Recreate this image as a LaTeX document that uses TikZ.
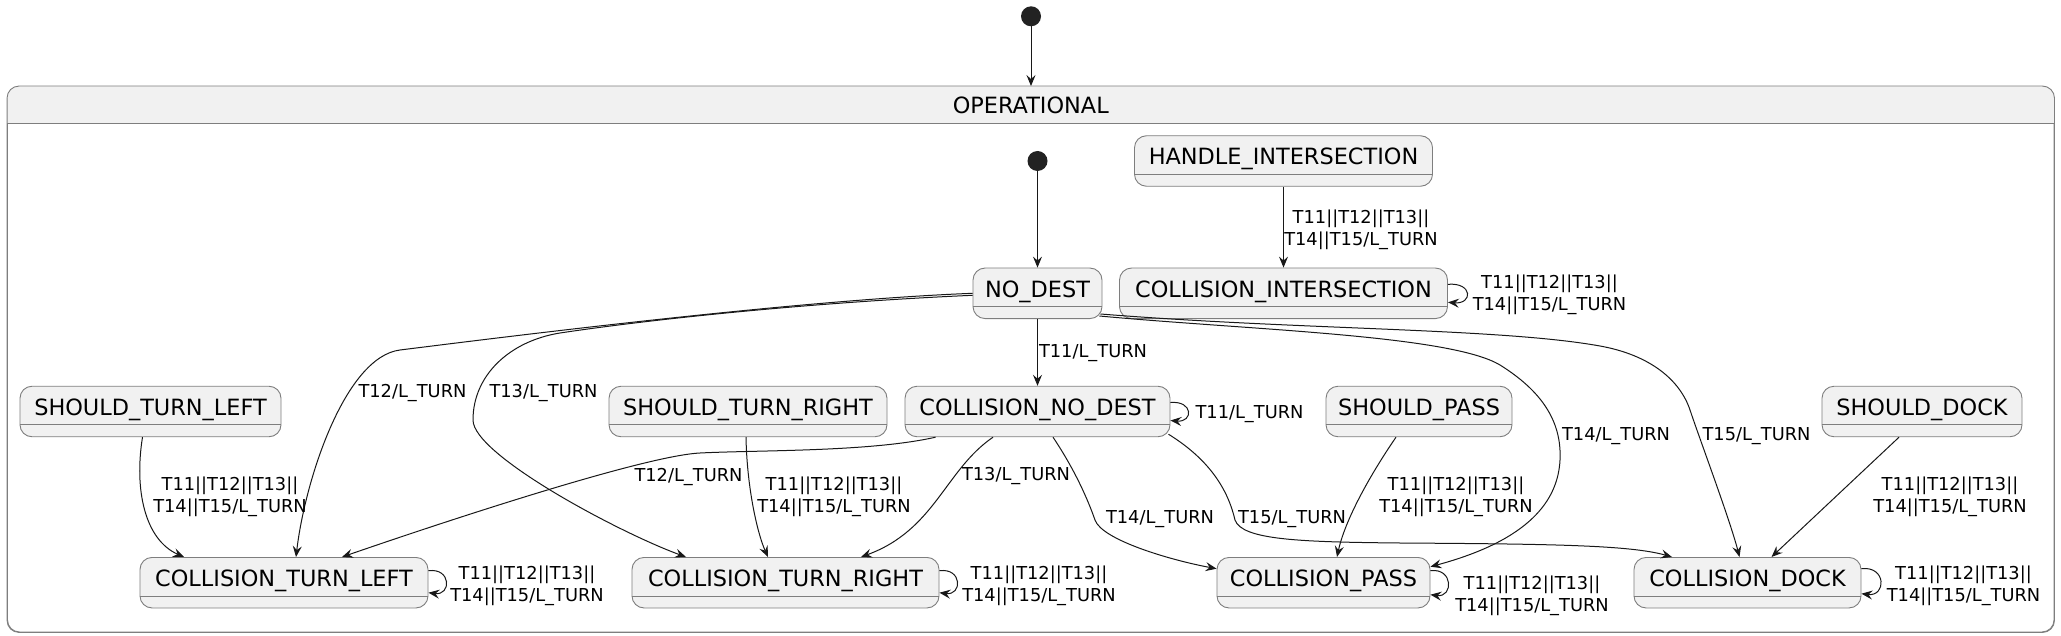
\documentclass[tikz,border=0pt]{standalone}
\usepackage{fontspec}
\setmainfont{DejaVu Sans}
\usetikzlibrary{arrows.meta,calc}
\definecolor{stfill}{HTML}{F1F1F1}
\definecolor{stline}{HTML}{181818}
\definecolor{bordc}{HTML}{7E7E7E}
\definecolor{dotc}{HTML}{222222}
\tikzset{
  statebox/.style={draw=bordc, line width=0.9pt, fill=stfill, rounded corners=12pt,
    minimum height=50.5pt, inner sep=0pt, text height=20pt, text depth=12.5pt,
    font=\fontsize{22.4}{26}\selectfont},
  sepline/.style={draw=bordc, line width=0.9pt},
  arr/.style={draw=stline, line width=1pt, -{Stealth[length=11pt,width=9pt,inset=4pt]}},
  lbl/.style={font=\fontsize{17.8}{22}\selectfont, align=center, inner sep=0pt},
  initdot/.style={circle, fill=dotc, minimum size=20pt, inner sep=0pt},
  titletext/.style={font=\fontsize{22.4}{26}\selectfont, inner sep=0pt},
}
\newcommand{\umlstate}[5]{%
  \node[statebox, minimum width=#4pt] (#1) at (#2,#3) {#5};
  \draw[sepline] ($(#1.north west)+(0,39)$) -- ($(#1.north east)+(0,39)$);
}
\begin{document}
\begin{tikzpicture}[x=1pt,y=-1pt]
\useasboundingbox (0,0) rectangle (2061,636);
% composite state
\node[draw=bordc, line width=0.9pt, rounded corners=12pt, minimum width=2046.5pt,
      minimum height=545.5pt, inner sep=0pt] (op) at (1030.75,359.25) {};
\fill[stfill, rounded corners=12pt] (op.north west) rectangle ($(op.north east)+(0,37.5)$);
\fill[stfill] ($(op.north west)+(0,20)$) rectangle ($(op.north east)+(0,37.5)$);
\draw[bordc, line width=0.9pt, rounded corners=12pt] (op.north west) rectangle (op.south east);
\draw[sepline] ($(op.north west)+(0,37.5)$) -- ($(op.north east)+(0,37.5)$);
\node[titletext, anchor=base] (optitle) at (1030.75,113.5) {OPERATIONAL};

% initial dots
\node[initdot] (init0) at (1031,16.3) {};
\node[initdot] (init1) at (1037.5,161) {};

% states
\umlstate{hi}{1283.5}{161}{298}{HANDLE\_INTERSECTION}
\umlstate{nd}{1037.5}{293.3}{129}{NO\_DEST}
\umlstate{ci}{1283.5}{293.3}{328}{COLLISION\_INTERSECTION}
\umlstate{stl}{150.5}{411.5}{261}{SHOULD\_TURN\_LEFT}
\umlstate{str}{748}{411.5}{278}{SHOULD\_TURN\_RIGHT}
\umlstate{cnd}{1037.5}{411.5}{265}{COLLISION\_NO\_DEST}
\umlstate{sp}{1419}{411.5}{186}{SHOULD\_PASS}
\umlstate{sd}{1922}{411.5}{200}{SHOULD\_DOCK}
\umlstate{ctl}{284}{582.7}{288}{COLLISION\_TURN\_LEFT}
\umlstate{ctr}{785.5}{582.7}{307}{COLLISION\_TURN\_RIGHT}
\umlstate{cp}{1323.5}{582.7}{213}{COLLISION\_PASS}
\umlstate{cd}{1747.5}{582.7}{227}{COLLISION\_DOCK}

% connectors
\draw[arr] (init0) -- (init0 |- op.north);
\draw[arr] (init1) -- (nd.north);
\draw[arr] (hi.south) -- (ci.north);
\draw[arr] (nd.south) -- (cnd.north);
% NO_DEST -> COLLISION_TURN_LEFT
\draw[arr] (nd.west) .. controls (800,300) and (520,335) .. (400,350)
  .. controls (345,357) and (305,480) .. ($(ctl.north)+(12,0)$);
% NO_DEST -> COLLISION_TURN_RIGHT
\draw[arr] ($(nd.west)+(0,2)$) .. controls (820,302) and (660,318) .. (560,333)
  .. controls (510,341) and (473,375) .. (473,420)
  .. controls (473,455) and (620,533) .. ($(ctr.north)+(-99.5,0)$);
% NO_DEST -> COLLISION_PASS
\draw[arr] ($(nd.south east)+(-3,-3)$) .. controls (1250,330) and (1450,335) .. (1500,365)
  .. controls (1540,390) and (1562,420) .. (1560,460)
  .. controls (1558,500) and (1530,540) .. ($(cp.east)+(0,-16)$);
% NO_DEST -> COLLISION_DOCK
\draw[arr] ($(nd.south east)+(-2,-5)$) .. controls (1300,330) and (1500,328) .. (1600,346)
  .. controls (1650,355) and (1680,380) .. (1690,410)
  .. controls (1700,440) and (1730,520) .. ($(cd.north)+(-8,0)$);
% COLLISION_NO_DEST -> ...
\draw[arr] ($(cnd.south west)+(31,0)$) .. controls (870,452) and (760,450) .. (700,453)
  .. controls (640,456) and (420,530) .. ($(ctl.north)+(58,0)$);
\draw[arr] ($(cnd.south)+(-44.5,0)$) .. controls (945,470) and (935,530) .. ($(ctr.north)+(75.5,0)$);
\draw[arr] ($(cnd.south)+(15.5,0)$) .. controls (1075,470) and (1088,500) .. (1095,520)
  .. controls (1102,540) and (1170,560) .. ($(cp.west)+(0,-14)$);
\draw[arr] ($(cnd.south east)+(-2,-3)$) .. controls (1210,460) and (1228,490) .. (1235,520)
  .. controls (1242,540) and (1300,542) .. (1400,543)
  .. controls (1550,544) and (1630,545) .. ($(cd.north)+(-75.5,0)$);
% SHOULD_* -> COLLISION_*
\draw[arr] ($(stl.south)+(-8,0)$) .. controls (134,490) and (145,540) .. ($(ctl.north)+(-100,0)$);
\draw[arr] ($(str.south)+(-2,0)$) .. controls (747,490) and (758,535) .. ($(ctr.north)+(-17.5,0)$);
\draw[arr] ($(sp.south)+(-23,0)$) .. controls (1370,475) and (1345,520) .. ($(cp.north)+(13.5,0)$);
\draw[arr] ($(sd.south)+(-23,0)$) -- ($(cd.north)+(24,0)$);
% self loops
\draw[arr] ($(ci.east)+(0,-9)$) .. controls +(25,-2) and +(25,2) .. ($(ci.east)+(0,9)$);
\draw[arr] ($(cnd.east)+(0,-9)$) .. controls +(23,-2) and +(23,2) .. ($(cnd.east)+(0,9)$);
\draw[arr] ($(ctl.east)+(0,-12)$) .. controls +(23,-3) and +(23,3) .. ($(ctl.east)+(0,10)$);
\draw[arr] ($(ctr.east)+(0,-12)$) .. controls +(23,-3) and +(23,3) .. ($(ctr.east)+(0,10)$);
\draw[arr] ($(cp.east)+(0,-12)$) .. controls +(23,-3) and +(23,3) .. ($(cp.east)+(0,12)$);
\draw[arr] ($(cd.east)+(0,-14)$) .. controls +(25,-3) and +(25,3) .. ($(cd.east)+(0,11)$);

% labels
\node[lbl] (l3) at (1361,229.5) {T11||T12||T13||\\T14||T15/L\_TURN};
\node[lbl] (l4) at (1549.5,295) {T11||T12||T13||\\T14||T15/L\_TURN};
\node[lbl] (l5) at (1093,353) {T11/L\_TURN};
\node[lbl] (l10) at (1249.5,414) {T11/L\_TURN};
\node[lbl] (l6) at (412.5,393) {T12/L\_TURN};
\node[lbl] (l7) at (543.5,393) {T13/L\_TURN};
\node[lbl] (l11) at (688.5,477) {T12/L\_TURN};
\node[lbl] (l12) at (1016,476) {T13/L\_TURN};
\node[lbl] (l13) at (1160,519) {T14/L\_TURN};
\node[lbl] (l14) at (1292,519) {T15/L\_TURN};
\node[lbl] (l8) at (1616,436) {T14/L\_TURN};
\node[lbl] (l9) at (1756.5,436.5) {T15/L\_TURN};
\node[lbl] (l15) at (230,497) {T11||T12||T13||\\T14||T15/L\_TURN};
\node[lbl] (l16) at (834,497) {T11||T12||T13||\\T14||T15/L\_TURN};
\node[lbl] (l17) at (1456,497) {T11||T12||T13||\\T14||T15/L\_TURN};
\node[lbl] (l18) at (1950,497) {T11||T12||T13||\\T14||T15/L\_TURN};
\node[lbl] (l19) at (527,586) {T11||T12||T13||\\T14||T15/L\_TURN};
\node[lbl] (l20) at (1039,586) {T11||T12||T13||\\T14||T15/L\_TURN};
\node[lbl] (l21) at (1532,596) {T11||T12||T13||\\T14||T15/L\_TURN};
\node[lbl] (l22) at (1963.5,586) {T11||T12||T13||\\T14||T15/L\_TURN};
\end{tikzpicture}
\end{document}
